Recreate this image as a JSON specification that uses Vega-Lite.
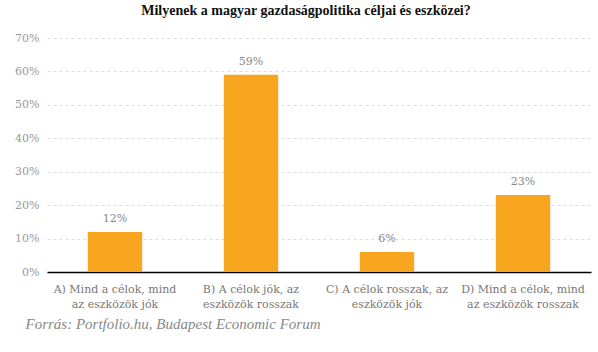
{
  "$schema": "https://vega.github.io/schema/vega-lite/v6.json",
  "width": 544,
  "height": 234,
  "autosize": "none",
  "padding": {"left": 47, "top": 38, "right": 7, "bottom": 80},
  "background": "white",
  "title": {
    "text": "Milyenek a magyar gazdaságpolitika céljai és eszközei?",
    "font": "Liberation Serif",
    "fontSize": 14,
    "fontWeight": "bold",
    "color": "#111",
    "anchor": "middle",
    "frame": "group",
    "dx": -13,
    "offset": 14
  },
  "data": {
    "values": [
      {"kat": "A) Mind a célok, mind|az eszközök jók", "ertek": 0.12},
      {"kat": "B) A célok jók, az|eszközök rosszak", "ertek": 0.59},
      {"kat": "C) A célok rosszak, az|eszközök jók", "ertek": 0.06},
      {"kat": "D) Mind a célok, mind|az eszközök rosszak", "ertek": 0.23}
    ]
  },
  "config": {"view": {"stroke": null}},
  "encoding": {
    "x": {
      "field": "kat",
      "type": "nominal",
      "sort": null,
      "scale": {"paddingInner": 0.6, "paddingOuter": 0.3},
      "axis": {
        "title": "Forrás: Portfolio.hu, Budapest Economic Forum",
        "titleFont": "Liberation Serif",
        "titleFontStyle": "italic",
        "titleFontWeight": "normal",
        "titleFontSize": 15,
        "titleColor": "#888",
        "titleAnchor": "start",
        "titleAlign": "left",
        "titleBaseline": "middle",
        "titleX": -22,
        "titleY": 51,
        "labelAngle": 0,
        "labelExpr": "split(datum.label, '|')",
        "labelFont": "DejaVu Serif",
        "labelFontSize": 11,
        "labelColor": "#777",
        "labelLineHeight": 15,
        "labelPadding": 11,
        "ticks": false,
        "domainColor": "#000",
        "domainWidth": 1.5,
        "grid": false
      }
    },
    "y": {
      "field": "ertek",
      "type": "quantitative",
      "scale": {"domain": [0, 0.7]},
      "axis": {
        "title": null,
        "values": [0, 0.1, 0.2, 0.3, 0.4, 0.5, 0.6, 0.7],
        "format": ".0%",
        "labelFont": "DejaVu Serif",
        "labelFontSize": 11,
        "labelColor": "#999",
        "labelPadding": 8,
        "ticks": false,
        "domain": false,
        "grid": true,
        "gridColor": "#dddddd",
        "gridDash": [3, 3],
        "gridWidth": 1
      }
    }
  },
  "layer": [
    {"mark": {"type": "bar", "color": "#f8a51f"}},
    {
      "mark": {
        "type": "text",
        "dy": -8,
        "font": "DejaVu Serif",
        "fontSize": 11,
        "color": "#888",
        "baseline": "bottom"
      },
      "encoding": {
        "text": {"field": "ertek", "type": "quantitative", "format": ".0%"}
      }
    }
  ]
}
